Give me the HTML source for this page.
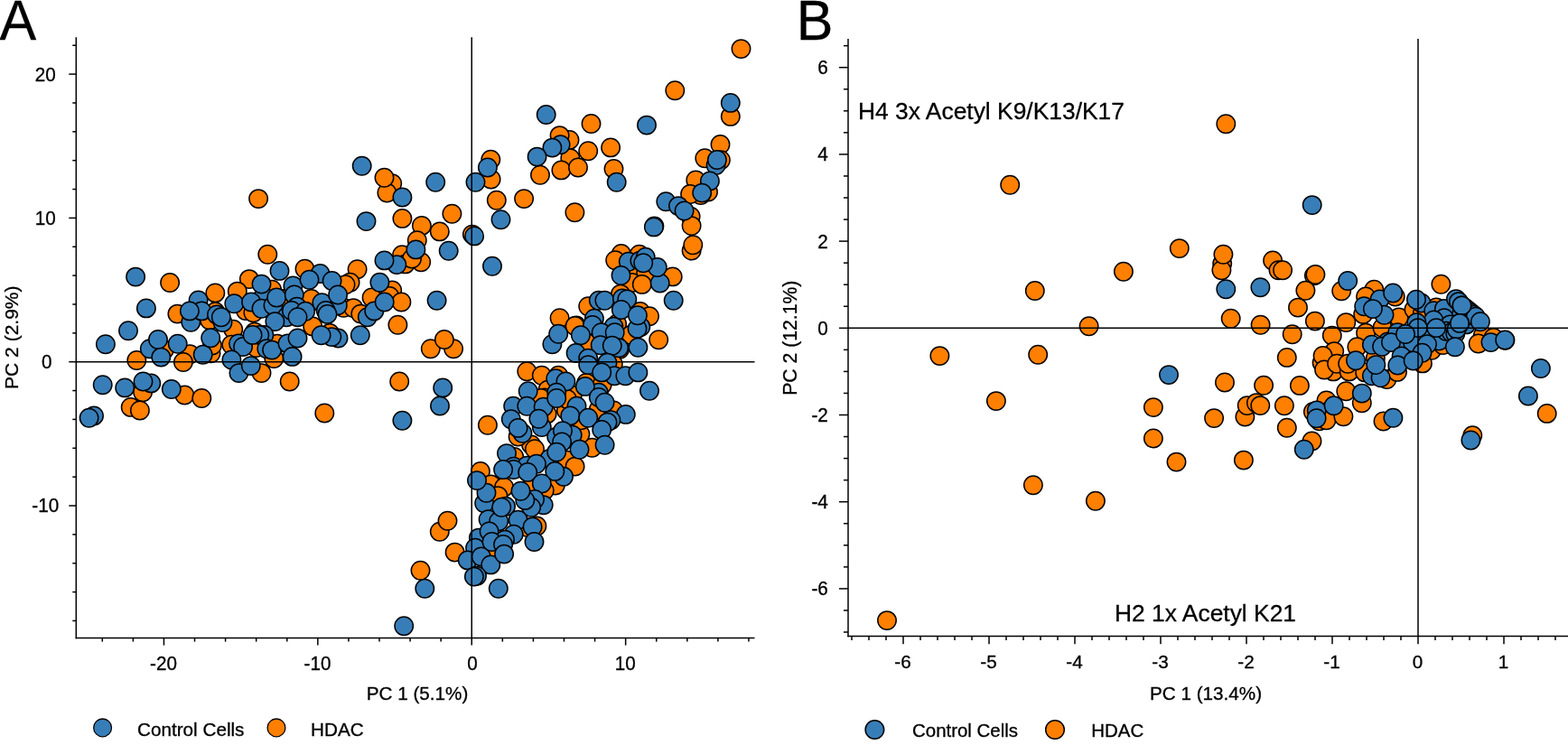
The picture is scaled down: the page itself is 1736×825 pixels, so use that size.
<!DOCTYPE html>
<html lang="en"><head><meta charset="utf-8"><title>PCA</title>
<style>
html,body{margin:0;padding:0;background:#fff;}
body{width:1736px;height:825px;overflow:hidden;}
svg{display:block;font-family:"Liberation Sans",sans-serif;fill:#000;}
text{stroke:#000;stroke-width:0.3px;}
circle{stroke:#000;stroke-width:1.5;}
</style></head><body>
<svg width="1736" height="825" viewBox="0 0 1736 825">
<rect x="0" y="0" width="1736" height="825" fill="#fff"/>
<g id="axes">
<line x1="84.30" y1="41.30" x2="84.30" y2="707.25" stroke="#000" stroke-width="1.5"/>
<line x1="83.65" y1="706.60" x2="835.50" y2="706.60" stroke="#000" stroke-width="1.5"/>
<line x1="113.29" y1="706.60" x2="113.29" y2="710.60" stroke="#000" stroke-width="1.5"/>
<line x1="147.37" y1="706.60" x2="147.37" y2="710.60" stroke="#000" stroke-width="1.5"/>
<line x1="181.45" y1="706.60" x2="181.45" y2="714.60" stroke="#000" stroke-width="1.5"/>
<text transform="translate(181.05 741.90) scale(1 1.045)" font-size="20.7" text-anchor="middle" >-20</text>
<line x1="215.53" y1="706.60" x2="215.53" y2="710.60" stroke="#000" stroke-width="1.5"/>
<line x1="249.61" y1="706.60" x2="249.61" y2="710.60" stroke="#000" stroke-width="1.5"/>
<line x1="283.69" y1="706.60" x2="283.69" y2="710.60" stroke="#000" stroke-width="1.5"/>
<line x1="317.77" y1="706.60" x2="317.77" y2="710.60" stroke="#000" stroke-width="1.5"/>
<line x1="351.85" y1="706.60" x2="351.85" y2="714.60" stroke="#000" stroke-width="1.5"/>
<text transform="translate(351.45 741.90) scale(1 1.045)" font-size="20.7" text-anchor="middle" >-10</text>
<line x1="385.93" y1="706.60" x2="385.93" y2="710.60" stroke="#000" stroke-width="1.5"/>
<line x1="420.01" y1="706.60" x2="420.01" y2="710.60" stroke="#000" stroke-width="1.5"/>
<line x1="454.09" y1="706.60" x2="454.09" y2="710.60" stroke="#000" stroke-width="1.5"/>
<line x1="488.17" y1="706.60" x2="488.17" y2="710.60" stroke="#000" stroke-width="1.5"/>
<line x1="522.25" y1="706.60" x2="522.25" y2="714.60" stroke="#000" stroke-width="1.5"/>
<text transform="translate(523.05 741.90) scale(1 1.045)" font-size="20.7" text-anchor="middle" >0</text>
<line x1="556.33" y1="706.60" x2="556.33" y2="710.60" stroke="#000" stroke-width="1.5"/>
<line x1="590.41" y1="706.60" x2="590.41" y2="710.60" stroke="#000" stroke-width="1.5"/>
<line x1="624.49" y1="706.60" x2="624.49" y2="710.60" stroke="#000" stroke-width="1.5"/>
<line x1="658.57" y1="706.60" x2="658.57" y2="710.60" stroke="#000" stroke-width="1.5"/>
<line x1="692.65" y1="706.60" x2="692.65" y2="714.60" stroke="#000" stroke-width="1.5"/>
<text transform="translate(692.25 741.90) scale(1 1.045)" font-size="20.7" text-anchor="middle" >10</text>
<line x1="726.73" y1="706.60" x2="726.73" y2="710.60" stroke="#000" stroke-width="1.5"/>
<line x1="760.81" y1="706.60" x2="760.81" y2="710.60" stroke="#000" stroke-width="1.5"/>
<line x1="794.89" y1="706.60" x2="794.89" y2="710.60" stroke="#000" stroke-width="1.5"/>
<line x1="828.97" y1="706.60" x2="828.97" y2="710.60" stroke="#000" stroke-width="1.5"/>
<line x1="84.30" y1="687.44" x2="80.30" y2="687.44" stroke="#000" stroke-width="1.5"/>
<line x1="84.30" y1="655.58" x2="80.30" y2="655.58" stroke="#000" stroke-width="1.5"/>
<line x1="84.30" y1="623.72" x2="80.30" y2="623.72" stroke="#000" stroke-width="1.5"/>
<line x1="84.30" y1="591.86" x2="80.30" y2="591.86" stroke="#000" stroke-width="1.5"/>
<line x1="84.30" y1="560.00" x2="76.30" y2="560.00" stroke="#000" stroke-width="1.5"/>
<text transform="translate(50.30 567.40) scale(1 1.045)" font-size="20.7" text-anchor="middle" >-10</text>
<line x1="84.30" y1="528.14" x2="80.30" y2="528.14" stroke="#000" stroke-width="1.5"/>
<line x1="84.30" y1="496.28" x2="80.30" y2="496.28" stroke="#000" stroke-width="1.5"/>
<line x1="84.30" y1="464.42" x2="80.30" y2="464.42" stroke="#000" stroke-width="1.5"/>
<line x1="84.30" y1="432.56" x2="80.30" y2="432.56" stroke="#000" stroke-width="1.5"/>
<line x1="84.30" y1="400.70" x2="76.30" y2="400.70" stroke="#000" stroke-width="1.5"/>
<text transform="translate(51.80 408.10) scale(1 1.045)" font-size="20.7" text-anchor="middle" >0</text>
<line x1="84.30" y1="368.84" x2="80.30" y2="368.84" stroke="#000" stroke-width="1.5"/>
<line x1="84.30" y1="336.98" x2="80.30" y2="336.98" stroke="#000" stroke-width="1.5"/>
<line x1="84.30" y1="305.12" x2="80.30" y2="305.12" stroke="#000" stroke-width="1.5"/>
<line x1="84.30" y1="273.26" x2="80.30" y2="273.26" stroke="#000" stroke-width="1.5"/>
<line x1="84.30" y1="241.40" x2="76.30" y2="241.40" stroke="#000" stroke-width="1.5"/>
<text transform="translate(50.30 248.80) scale(1 1.045)" font-size="20.7" text-anchor="middle" >10</text>
<line x1="84.30" y1="209.54" x2="80.30" y2="209.54" stroke="#000" stroke-width="1.5"/>
<line x1="84.30" y1="177.68" x2="80.30" y2="177.68" stroke="#000" stroke-width="1.5"/>
<line x1="84.30" y1="145.82" x2="80.30" y2="145.82" stroke="#000" stroke-width="1.5"/>
<line x1="84.30" y1="113.96" x2="80.30" y2="113.96" stroke="#000" stroke-width="1.5"/>
<line x1="84.30" y1="82.10" x2="76.30" y2="82.10" stroke="#000" stroke-width="1.5"/>
<text transform="translate(50.30 89.50) scale(1 1.045)" font-size="20.7" text-anchor="middle" >20</text>
<line x1="84.30" y1="50.24" x2="80.30" y2="50.24" stroke="#000" stroke-width="1.5"/>
<text transform="translate(462.00 775.00) scale(1 0.99)" font-size="20.7" text-anchor="middle" >PC 1 (5.1%)</text>
<text transform="translate(20,373.7) rotate(-90)" font-size="21" text-anchor="middle">PC 2 (2.9%)</text>
<text transform="translate(-0.4 43.8) scale(1 1.03)" font-size="61">A</text>
<line x1="939.00" y1="43.00" x2="939.00" y2="705.25" stroke="#000" stroke-width="1.5"/>
<line x1="938.25" y1="704.50" x2="1736.00" y2="704.50" stroke="#000" stroke-width="1.5"/>
<line x1="943.00" y1="704.50" x2="943.00" y2="708.90" stroke="#000" stroke-width="1.5"/>
<line x1="962.00" y1="704.50" x2="962.00" y2="708.90" stroke="#000" stroke-width="1.5"/>
<line x1="981.00" y1="704.50" x2="981.00" y2="708.90" stroke="#000" stroke-width="1.5"/>
<line x1="1000.00" y1="704.50" x2="1000.00" y2="713.20" stroke="#000" stroke-width="1.5"/>
<text transform="translate(999.50 740.40) scale(1 1.0)" font-size="20.7" text-anchor="middle" >-6</text>
<line x1="1019.00" y1="704.50" x2="1019.00" y2="708.90" stroke="#000" stroke-width="1.5"/>
<line x1="1038.00" y1="704.50" x2="1038.00" y2="708.90" stroke="#000" stroke-width="1.5"/>
<line x1="1057.00" y1="704.50" x2="1057.00" y2="708.90" stroke="#000" stroke-width="1.5"/>
<line x1="1076.00" y1="704.50" x2="1076.00" y2="708.90" stroke="#000" stroke-width="1.5"/>
<line x1="1095.00" y1="704.50" x2="1095.00" y2="713.20" stroke="#000" stroke-width="1.5"/>
<text transform="translate(1094.50 740.40) scale(1 1.0)" font-size="20.7" text-anchor="middle" >-5</text>
<line x1="1114.00" y1="704.50" x2="1114.00" y2="708.90" stroke="#000" stroke-width="1.5"/>
<line x1="1133.00" y1="704.50" x2="1133.00" y2="708.90" stroke="#000" stroke-width="1.5"/>
<line x1="1152.00" y1="704.50" x2="1152.00" y2="708.90" stroke="#000" stroke-width="1.5"/>
<line x1="1171.00" y1="704.50" x2="1171.00" y2="708.90" stroke="#000" stroke-width="1.5"/>
<line x1="1190.00" y1="704.50" x2="1190.00" y2="713.20" stroke="#000" stroke-width="1.5"/>
<text transform="translate(1189.50 740.40) scale(1 1.0)" font-size="20.7" text-anchor="middle" >-4</text>
<line x1="1209.00" y1="704.50" x2="1209.00" y2="708.90" stroke="#000" stroke-width="1.5"/>
<line x1="1228.00" y1="704.50" x2="1228.00" y2="708.90" stroke="#000" stroke-width="1.5"/>
<line x1="1247.00" y1="704.50" x2="1247.00" y2="708.90" stroke="#000" stroke-width="1.5"/>
<line x1="1266.00" y1="704.50" x2="1266.00" y2="708.90" stroke="#000" stroke-width="1.5"/>
<line x1="1285.00" y1="704.50" x2="1285.00" y2="713.20" stroke="#000" stroke-width="1.5"/>
<text transform="translate(1284.50 740.40) scale(1 1.0)" font-size="20.7" text-anchor="middle" >-3</text>
<line x1="1304.00" y1="704.50" x2="1304.00" y2="708.90" stroke="#000" stroke-width="1.5"/>
<line x1="1323.00" y1="704.50" x2="1323.00" y2="708.90" stroke="#000" stroke-width="1.5"/>
<line x1="1342.00" y1="704.50" x2="1342.00" y2="708.90" stroke="#000" stroke-width="1.5"/>
<line x1="1361.00" y1="704.50" x2="1361.00" y2="708.90" stroke="#000" stroke-width="1.5"/>
<line x1="1380.00" y1="704.50" x2="1380.00" y2="713.20" stroke="#000" stroke-width="1.5"/>
<text transform="translate(1379.50 740.40) scale(1 1.0)" font-size="20.7" text-anchor="middle" >-2</text>
<line x1="1399.00" y1="704.50" x2="1399.00" y2="708.90" stroke="#000" stroke-width="1.5"/>
<line x1="1418.00" y1="704.50" x2="1418.00" y2="708.90" stroke="#000" stroke-width="1.5"/>
<line x1="1437.00" y1="704.50" x2="1437.00" y2="708.90" stroke="#000" stroke-width="1.5"/>
<line x1="1456.00" y1="704.50" x2="1456.00" y2="708.90" stroke="#000" stroke-width="1.5"/>
<line x1="1475.00" y1="704.50" x2="1475.00" y2="713.20" stroke="#000" stroke-width="1.5"/>
<text transform="translate(1474.50 740.40) scale(1 1.0)" font-size="20.7" text-anchor="middle" >-1</text>
<line x1="1494.00" y1="704.50" x2="1494.00" y2="708.90" stroke="#000" stroke-width="1.5"/>
<line x1="1513.00" y1="704.50" x2="1513.00" y2="708.90" stroke="#000" stroke-width="1.5"/>
<line x1="1532.00" y1="704.50" x2="1532.00" y2="708.90" stroke="#000" stroke-width="1.5"/>
<line x1="1551.00" y1="704.50" x2="1551.00" y2="708.90" stroke="#000" stroke-width="1.5"/>
<line x1="1570.00" y1="704.50" x2="1570.00" y2="713.20" stroke="#000" stroke-width="1.5"/>
<text transform="translate(1569.50 740.40) scale(1 1.0)" font-size="20.7" text-anchor="middle" >0</text>
<line x1="1589.00" y1="704.50" x2="1589.00" y2="708.90" stroke="#000" stroke-width="1.5"/>
<line x1="1608.00" y1="704.50" x2="1608.00" y2="708.90" stroke="#000" stroke-width="1.5"/>
<line x1="1627.00" y1="704.50" x2="1627.00" y2="708.90" stroke="#000" stroke-width="1.5"/>
<line x1="1646.00" y1="704.50" x2="1646.00" y2="708.90" stroke="#000" stroke-width="1.5"/>
<line x1="1665.00" y1="704.50" x2="1665.00" y2="713.20" stroke="#000" stroke-width="1.5"/>
<text transform="translate(1664.50 740.40) scale(1 1.0)" font-size="20.7" text-anchor="middle" >1</text>
<line x1="1684.00" y1="704.50" x2="1684.00" y2="708.90" stroke="#000" stroke-width="1.5"/>
<line x1="1703.00" y1="704.50" x2="1703.00" y2="708.90" stroke="#000" stroke-width="1.5"/>
<line x1="1722.00" y1="704.50" x2="1722.00" y2="708.90" stroke="#000" stroke-width="1.5"/>
<line x1="939.00" y1="700.00" x2="934.00" y2="700.00" stroke="#000" stroke-width="1.5"/>
<line x1="939.00" y1="675.95" x2="934.00" y2="675.95" stroke="#000" stroke-width="1.5"/>
<line x1="939.00" y1="651.90" x2="929.00" y2="651.90" stroke="#000" stroke-width="1.5"/>
<text transform="translate(907.60 659.30) scale(1 1.045)" font-size="20.7" text-anchor="middle" >-6</text>
<line x1="939.00" y1="627.85" x2="934.00" y2="627.85" stroke="#000" stroke-width="1.5"/>
<line x1="939.00" y1="603.80" x2="934.00" y2="603.80" stroke="#000" stroke-width="1.5"/>
<line x1="939.00" y1="579.75" x2="934.00" y2="579.75" stroke="#000" stroke-width="1.5"/>
<line x1="939.00" y1="555.70" x2="929.00" y2="555.70" stroke="#000" stroke-width="1.5"/>
<text transform="translate(907.60 563.10) scale(1 1.045)" font-size="20.7" text-anchor="middle" >-4</text>
<line x1="939.00" y1="531.65" x2="934.00" y2="531.65" stroke="#000" stroke-width="1.5"/>
<line x1="939.00" y1="507.60" x2="934.00" y2="507.60" stroke="#000" stroke-width="1.5"/>
<line x1="939.00" y1="483.55" x2="934.00" y2="483.55" stroke="#000" stroke-width="1.5"/>
<line x1="939.00" y1="459.50" x2="929.00" y2="459.50" stroke="#000" stroke-width="1.5"/>
<text transform="translate(907.60 466.90) scale(1 1.045)" font-size="20.7" text-anchor="middle" >-2</text>
<line x1="939.00" y1="435.45" x2="934.00" y2="435.45" stroke="#000" stroke-width="1.5"/>
<line x1="939.00" y1="411.40" x2="934.00" y2="411.40" stroke="#000" stroke-width="1.5"/>
<line x1="939.00" y1="387.35" x2="934.00" y2="387.35" stroke="#000" stroke-width="1.5"/>
<line x1="939.00" y1="363.30" x2="929.00" y2="363.30" stroke="#000" stroke-width="1.5"/>
<text transform="translate(910.90 370.70) scale(1 1.045)" font-size="20.7" text-anchor="middle" >0</text>
<line x1="939.00" y1="339.25" x2="934.00" y2="339.25" stroke="#000" stroke-width="1.5"/>
<line x1="939.00" y1="315.20" x2="934.00" y2="315.20" stroke="#000" stroke-width="1.5"/>
<line x1="939.00" y1="291.15" x2="934.00" y2="291.15" stroke="#000" stroke-width="1.5"/>
<line x1="939.00" y1="267.10" x2="929.00" y2="267.10" stroke="#000" stroke-width="1.5"/>
<text transform="translate(910.90 274.50) scale(1 1.045)" font-size="20.7" text-anchor="middle" >2</text>
<line x1="939.00" y1="243.05" x2="934.00" y2="243.05" stroke="#000" stroke-width="1.5"/>
<line x1="939.00" y1="219.00" x2="934.00" y2="219.00" stroke="#000" stroke-width="1.5"/>
<line x1="939.00" y1="194.95" x2="934.00" y2="194.95" stroke="#000" stroke-width="1.5"/>
<line x1="939.00" y1="170.90" x2="929.00" y2="170.90" stroke="#000" stroke-width="1.5"/>
<text transform="translate(910.90 178.30) scale(1 1.045)" font-size="20.7" text-anchor="middle" >4</text>
<line x1="939.00" y1="146.85" x2="934.00" y2="146.85" stroke="#000" stroke-width="1.5"/>
<line x1="939.00" y1="122.80" x2="934.00" y2="122.80" stroke="#000" stroke-width="1.5"/>
<line x1="939.00" y1="98.75" x2="934.00" y2="98.75" stroke="#000" stroke-width="1.5"/>
<line x1="939.00" y1="74.70" x2="929.00" y2="74.70" stroke="#000" stroke-width="1.5"/>
<text transform="translate(910.90 82.10) scale(1 1.045)" font-size="20.7" text-anchor="middle" >6</text>
<line x1="939.00" y1="50.65" x2="934.00" y2="50.65" stroke="#000" stroke-width="1.5"/>
<text transform="translate(1335.00 775.00) scale(1 0.98)" font-size="20.7" text-anchor="middle" >PC 1 (13.4%)</text>
<text transform="translate(881.8,374.2) rotate(-90)" font-size="21.2" text-anchor="middle">PC 2 (12.1%)</text>
<text transform="translate(881.7 43.8) scale(1 1.03)" font-size="61">B</text>
<text transform="translate(950.00 132.00) scale(1 0.965)" font-size="26.4" text-anchor="start" >H4 3x Acetyl K9/K13/K17</text>
<text transform="translate(1234.00 688.00) scale(1 0.965)" font-size="26.4" text-anchor="start" >H2 1x Acetyl K21</text>
</g>
<g id="pointsA">
<circle cx="188.1" cy="313.0" r="10.2" fill="#ff7f00"/>
<circle cx="296.3" cy="281.7" r="10.2" fill="#ff7f00"/>
<circle cx="275.9" cy="309.1" r="10.2" fill="#ff7f00"/>
<circle cx="262.8" cy="322.6" r="10.2" fill="#ff7f00"/>
<circle cx="238.3" cy="324.4" r="10.2" fill="#ff7f00"/>
<circle cx="196.4" cy="347.6" r="10.2" fill="#ff7f00"/>
<circle cx="238.3" cy="345.2" r="10.2" fill="#ff7f00"/>
<circle cx="232.0" cy="354.5" r="10.2" fill="#ff7f00"/>
<circle cx="258.2" cy="364.8" r="10.2" fill="#ff7f00"/>
<circle cx="272.0" cy="344.0" r="10.2" fill="#ff7f00"/>
<circle cx="280.4" cy="346.2" r="10.2" fill="#ff7f00"/>
<circle cx="301.1" cy="320.7" r="10.2" fill="#ff7f00"/>
<circle cx="312.7" cy="330.9" r="10.2" fill="#ff7f00"/>
<circle cx="151.3" cy="399.0" r="10.2" fill="#ff7f00"/>
<circle cx="181.8" cy="387.6" r="10.2" fill="#ff7f00"/>
<circle cx="210.2" cy="392.3" r="10.2" fill="#ff7f00"/>
<circle cx="233.5" cy="391.3" r="10.2" fill="#ff7f00"/>
<circle cx="234.9" cy="382.5" r="10.2" fill="#ff7f00"/>
<circle cx="256.3" cy="381.8" r="10.2" fill="#ff7f00"/>
<circle cx="281.9" cy="367.6" r="10.2" fill="#ff7f00"/>
<circle cx="306.9" cy="380.7" r="10.2" fill="#ff7f00"/>
<circle cx="283.6" cy="385.0" r="10.2" fill="#ff7f00"/>
<circle cx="303.3" cy="397.1" r="10.2" fill="#ff7f00"/>
<circle cx="337.5" cy="297.7" r="10.2" fill="#ff7f00"/>
<circle cx="395.6" cy="298.2" r="10.2" fill="#ff7f00"/>
<circle cx="387.6" cy="312.7" r="10.2" fill="#ff7f00"/>
<circle cx="382.5" cy="315.2" r="10.2" fill="#ff7f00"/>
<circle cx="344.7" cy="330.9" r="10.2" fill="#ff7f00"/>
<circle cx="346.2" cy="361.5" r="10.2" fill="#ff7f00"/>
<circle cx="365.1" cy="369.0" r="10.2" fill="#ff7f00"/>
<circle cx="380.4" cy="340.8" r="10.2" fill="#ff7f00"/>
<circle cx="391.3" cy="341.1" r="10.2" fill="#ff7f00"/>
<circle cx="399.3" cy="347.6" r="10.2" fill="#ff7f00"/>
<circle cx="411.6" cy="329.5" r="10.2" fill="#ff7f00"/>
<circle cx="434.2" cy="321.5" r="10.2" fill="#ff7f00"/>
<circle cx="431.3" cy="328.0" r="10.2" fill="#ff7f00"/>
<circle cx="444.4" cy="334.5" r="10.2" fill="#ff7f00"/>
<circle cx="440.4" cy="359.7" r="10.2" fill="#ff7f00"/>
<circle cx="476.8" cy="386.2" r="10.2" fill="#ff7f00"/>
<circle cx="502.1" cy="386.2" r="10.2" fill="#ff7f00"/>
<circle cx="491.9" cy="376.0" r="10.2" fill="#ff7f00"/>
<circle cx="445.1" cy="282.2" r="10.2" fill="#ff7f00"/>
<circle cx="448.7" cy="292.4" r="10.2" fill="#ff7f00"/>
<circle cx="466.2" cy="290.2" r="10.2" fill="#ff7f00"/>
<circle cx="456.0" cy="286.5" r="10.2" fill="#ff7f00"/>
<circle cx="202.9" cy="401.0" r="10.2" fill="#ff7f00"/>
<circle cx="289.5" cy="413.1" r="10.2" fill="#ff7f00"/>
<circle cx="158.1" cy="434.2" r="10.2" fill="#ff7f00"/>
<circle cx="204.4" cy="437.5" r="10.2" fill="#ff7f00"/>
<circle cx="223.3" cy="441.0" r="10.2" fill="#ff7f00"/>
<circle cx="144.7" cy="450.9" r="10.2" fill="#ff7f00"/>
<circle cx="154.9" cy="454.5" r="10.2" fill="#ff7f00"/>
<circle cx="320.7" cy="422.5" r="10.2" fill="#ff7f00"/>
<circle cx="442.2" cy="422.5" r="10.2" fill="#ff7f00"/>
<circle cx="359.3" cy="457.5" r="10.2" fill="#ff7f00"/>
<circle cx="539.9" cy="470.8" r="10.2" fill="#ff7f00"/>
<circle cx="434.2" cy="203.3" r="10.2" fill="#ff7f00"/>
<circle cx="428.4" cy="213.5" r="10.2" fill="#ff7f00"/>
<circle cx="425.5" cy="196.7" r="10.2" fill="#ff7f00"/>
<circle cx="445.4" cy="241.9" r="10.2" fill="#ff7f00"/>
<circle cx="466.9" cy="249.9" r="10.2" fill="#ff7f00"/>
<circle cx="486.8" cy="256.4" r="10.2" fill="#ff7f00"/>
<circle cx="500.4" cy="236.8" r="10.2" fill="#ff7f00"/>
<circle cx="461.8" cy="266.2" r="10.2" fill="#ff7f00"/>
<circle cx="543.3" cy="176.7" r="10.2" fill="#ff7f00"/>
<circle cx="543.6" cy="198.5" r="10.2" fill="#ff7f00"/>
<circle cx="549.8" cy="221.8" r="10.2" fill="#ff7f00"/>
<circle cx="522.9" cy="259.6" r="10.2" fill="#ff7f00"/>
<circle cx="286.1" cy="220.1" r="10.2" fill="#ff7f00"/>
<circle cx="630.5" cy="154.9" r="10.2" fill="#ff7f00"/>
<circle cx="619.6" cy="150.1" r="10.2" fill="#ff7f00"/>
<circle cx="654.5" cy="137.0" r="10.2" fill="#ff7f00"/>
<circle cx="820.5" cy="54.1" r="10.2" fill="#ff7f00"/>
<circle cx="747.3" cy="100.3" r="10.2" fill="#ff7f00"/>
<circle cx="808.8" cy="128.9" r="10.2" fill="#ff7f00"/>
<circle cx="797.5" cy="160.0" r="10.2" fill="#ff7f00"/>
<circle cx="780.3" cy="175.3" r="10.2" fill="#ff7f00"/>
<circle cx="797.9" cy="177.2" r="10.2" fill="#ff7f00"/>
<circle cx="770.3" cy="199.5" r="10.2" fill="#ff7f00"/>
<circle cx="651.2" cy="167.2" r="10.2" fill="#ff7f00"/>
<circle cx="676.1" cy="163.4" r="10.2" fill="#ff7f00"/>
<circle cx="631.3" cy="175.3" r="10.2" fill="#ff7f00"/>
<circle cx="621.4" cy="188.4" r="10.2" fill="#ff7f00"/>
<circle cx="640.0" cy="185.5" r="10.2" fill="#ff7f00"/>
<circle cx="598.0" cy="193.7" r="10.2" fill="#ff7f00"/>
<circle cx="679.5" cy="186.9" r="10.2" fill="#ff7f00"/>
<circle cx="580.1" cy="220.1" r="10.2" fill="#ff7f00"/>
<circle cx="636.4" cy="235.2" r="10.2" fill="#ff7f00"/>
<circle cx="784.0" cy="212.6" r="10.2" fill="#ff7f00"/>
<circle cx="775.8" cy="216.0" r="10.2" fill="#ff7f00"/>
<circle cx="764.1" cy="215.0" r="10.2" fill="#ff7f00"/>
<circle cx="764.6" cy="239.8" r="10.2" fill="#ff7f00"/>
<circle cx="765.6" cy="250.1" r="10.2" fill="#ff7f00"/>
<circle cx="724.4" cy="250.4" r="10.2" fill="#ff7f00"/>
<circle cx="765.6" cy="277.6" r="10.2" fill="#ff7f00"/>
<circle cx="767.3" cy="271.3" r="10.2" fill="#ff7f00"/>
<circle cx="687.8" cy="281.0" r="10.2" fill="#ff7f00"/>
<circle cx="681.2" cy="288.2" r="10.2" fill="#ff7f00"/>
<circle cx="705.5" cy="306.2" r="10.2" fill="#ff7f00"/>
<circle cx="715.2" cy="302.3" r="10.2" fill="#ff7f00"/>
<circle cx="699.6" cy="313.0" r="10.2" fill="#ff7f00"/>
<circle cx="710.8" cy="314.9" r="10.2" fill="#ff7f00"/>
<circle cx="687.0" cy="325.6" r="10.2" fill="#ff7f00"/>
<circle cx="651.2" cy="339.2" r="10.2" fill="#ff7f00"/>
<circle cx="619.6" cy="352.2" r="10.2" fill="#ff7f00"/>
<circle cx="708.8" cy="345.0" r="10.2" fill="#ff7f00"/>
<circle cx="683.1" cy="358.8" r="10.2" fill="#ff7f00"/>
<circle cx="719.0" cy="350.3" r="10.2" fill="#ff7f00"/>
<circle cx="744.7" cy="306.4" r="10.2" fill="#ff7f00"/>
<circle cx="638.1" cy="360.5" r="10.2" fill="#ff7f00"/>
<circle cx="636.6" cy="361.0" r="10.2" fill="#ff7f00"/>
<circle cx="649.2" cy="379.4" r="10.2" fill="#ff7f00"/>
<circle cx="698.7" cy="370.7" r="10.2" fill="#ff7f00"/>
<circle cx="686.1" cy="386.7" r="10.2" fill="#ff7f00"/>
<circle cx="671.5" cy="402.7" r="10.2" fill="#ff7f00"/>
<circle cx="678.8" cy="403.2" r="10.2" fill="#ff7f00"/>
<circle cx="583.3" cy="411.2" r="10.2" fill="#ff7f00"/>
<circle cx="599.8" cy="415.8" r="10.2" fill="#ff7f00"/>
<circle cx="618.2" cy="415.8" r="10.2" fill="#ff7f00"/>
<circle cx="606.5" cy="431.8" r="10.2" fill="#ff7f00"/>
<circle cx="602.7" cy="440.5" r="10.2" fill="#ff7f00"/>
<circle cx="633.7" cy="437.6" r="10.2" fill="#ff7f00"/>
<circle cx="649.2" cy="424.0" r="10.2" fill="#ff7f00"/>
<circle cx="666.7" cy="425.9" r="10.2" fill="#ff7f00"/>
<circle cx="729.2" cy="376.2" r="10.2" fill="#ff7f00"/>
<circle cx="588.1" cy="492.4" r="10.2" fill="#ff7f00"/>
<circle cx="573.6" cy="483.6" r="10.2" fill="#ff7f00"/>
<circle cx="569.2" cy="505.9" r="10.2" fill="#ff7f00"/>
<circle cx="627.9" cy="509.8" r="10.2" fill="#ff7f00"/>
<circle cx="636.6" cy="516.6" r="10.2" fill="#ff7f00"/>
<circle cx="655.5" cy="495.8" r="10.2" fill="#ff7f00"/>
<circle cx="642.4" cy="480.7" r="10.2" fill="#ff7f00"/>
<circle cx="662.8" cy="453.6" r="10.2" fill="#ff7f00"/>
<circle cx="679.3" cy="454.5" r="10.2" fill="#ff7f00"/>
<circle cx="626.9" cy="454.5" r="10.2" fill="#ff7f00"/>
<circle cx="605.6" cy="458.4" r="10.2" fill="#ff7f00"/>
<circle cx="643.4" cy="465.2" r="10.2" fill="#ff7f00"/>
<circle cx="598.8" cy="441.0" r="10.2" fill="#ff7f00"/>
<circle cx="627.9" cy="441.9" r="10.2" fill="#ff7f00"/>
<circle cx="592.0" cy="497.2" r="10.2" fill="#ff7f00"/>
<circle cx="614.8" cy="537.5" r="10.2" fill="#ff7f00"/>
<circle cx="602.7" cy="543.3" r="10.2" fill="#ff7f00"/>
<circle cx="588.1" cy="539.4" r="10.2" fill="#ff7f00"/>
<circle cx="594.4" cy="582.5" r="10.2" fill="#ff7f00"/>
<circle cx="584.2" cy="584.0" r="10.2" fill="#ff7f00"/>
<circle cx="486.8" cy="588.8" r="10.2" fill="#ff7f00"/>
<circle cx="495.5" cy="576.7" r="10.2" fill="#ff7f00"/>
<circle cx="531.9" cy="521.9" r="10.2" fill="#ff7f00"/>
<circle cx="543.5" cy="536.5" r="10.2" fill="#ff7f00"/>
<circle cx="558.1" cy="539.4" r="10.2" fill="#ff7f00"/>
<circle cx="551.3" cy="549.1" r="10.2" fill="#ff7f00"/>
<circle cx="503.6" cy="611.6" r="10.2" fill="#ff7f00"/>
<circle cx="465.5" cy="631.7" r="10.2" fill="#ff7f00"/>
<circle cx="544.5" cy="612.6" r="10.2" fill="#ff7f00"/>
<circle cx="707.8" cy="281.8" r="10.2" fill="#ff7f00"/>
<circle cx="679.4" cy="361.8" r="10.2" fill="#377eb8"/>
<circle cx="165.8" cy="386.2" r="10.2" fill="#377eb8"/>
<circle cx="175.0" cy="376.0" r="10.2" fill="#377eb8"/>
<circle cx="178.3" cy="395.6" r="10.2" fill="#377eb8"/>
<circle cx="116.9" cy="381.2" r="10.2" fill="#377eb8"/>
<circle cx="142.0" cy="366.3" r="10.2" fill="#377eb8"/>
<circle cx="161.9" cy="341.4" r="10.2" fill="#377eb8"/>
<circle cx="150.1" cy="306.6" r="10.2" fill="#377eb8"/>
<circle cx="196.7" cy="380.8" r="10.2" fill="#377eb8"/>
<circle cx="224.7" cy="392.7" r="10.2" fill="#377eb8"/>
<circle cx="233.2" cy="374.3" r="10.2" fill="#377eb8"/>
<circle cx="219.6" cy="332.4" r="10.2" fill="#377eb8"/>
<circle cx="211.3" cy="356.8" r="10.2" fill="#377eb8"/>
<circle cx="223.3" cy="344.4" r="10.2" fill="#377eb8"/>
<circle cx="209.9" cy="344.4" r="10.2" fill="#377eb8"/>
<circle cx="240.0" cy="348.4" r="10.2" fill="#377eb8"/>
<circle cx="246.5" cy="357.1" r="10.2" fill="#377eb8"/>
<circle cx="244.8" cy="351.3" r="10.2" fill="#377eb8"/>
<circle cx="259.3" cy="336.3" r="10.2" fill="#377eb8"/>
<circle cx="291.6" cy="328.0" r="10.2" fill="#377eb8"/>
<circle cx="278.1" cy="334.5" r="10.2" fill="#377eb8"/>
<circle cx="289.5" cy="341.8" r="10.2" fill="#377eb8"/>
<circle cx="302.5" cy="338.2" r="10.2" fill="#377eb8"/>
<circle cx="306.2" cy="329.5" r="10.2" fill="#377eb8"/>
<circle cx="289.5" cy="314.6" r="10.2" fill="#377eb8"/>
<circle cx="309.5" cy="299.9" r="10.2" fill="#377eb8"/>
<circle cx="317.1" cy="351.3" r="10.2" fill="#377eb8"/>
<circle cx="304.4" cy="356.1" r="10.2" fill="#377eb8"/>
<circle cx="292.4" cy="370.9" r="10.2" fill="#377eb8"/>
<circle cx="287.3" cy="370.9" r="10.2" fill="#377eb8"/>
<circle cx="264.0" cy="380.4" r="10.2" fill="#377eb8"/>
<circle cx="269.1" cy="384.0" r="10.2" fill="#377eb8"/>
<circle cx="279.6" cy="370.9" r="10.2" fill="#377eb8"/>
<circle cx="295.3" cy="386.2" r="10.2" fill="#377eb8"/>
<circle cx="301.1" cy="387.6" r="10.2" fill="#377eb8"/>
<circle cx="256.4" cy="398.5" r="10.2" fill="#377eb8"/>
<circle cx="318.5" cy="380.4" r="10.2" fill="#377eb8"/>
<circle cx="324.4" cy="316.4" r="10.2" fill="#377eb8"/>
<circle cx="325.8" cy="326.5" r="10.2" fill="#377eb8"/>
<circle cx="354.5" cy="303.0" r="10.2" fill="#377eb8"/>
<circle cx="342.5" cy="309.8" r="10.2" fill="#377eb8"/>
<circle cx="367.6" cy="311.0" r="10.2" fill="#377eb8"/>
<circle cx="373.8" cy="338.2" r="10.2" fill="#377eb8"/>
<circle cx="356.4" cy="335.3" r="10.2" fill="#377eb8"/>
<circle cx="374.1" cy="326.5" r="10.2" fill="#377eb8"/>
<circle cx="360.7" cy="344.0" r="10.2" fill="#377eb8"/>
<circle cx="362.5" cy="347.9" r="10.2" fill="#377eb8"/>
<circle cx="328.7" cy="339.6" r="10.2" fill="#377eb8"/>
<circle cx="322.9" cy="344.0" r="10.2" fill="#377eb8"/>
<circle cx="338.2" cy="344.7" r="10.2" fill="#377eb8"/>
<circle cx="329.5" cy="351.3" r="10.2" fill="#377eb8"/>
<circle cx="329.5" cy="374.5" r="10.2" fill="#377eb8"/>
<circle cx="323.6" cy="394.9" r="10.2" fill="#377eb8"/>
<circle cx="374.5" cy="374.5" r="10.2" fill="#377eb8"/>
<circle cx="367.3" cy="373.1" r="10.2" fill="#377eb8"/>
<circle cx="355.6" cy="371.3" r="10.2" fill="#377eb8"/>
<circle cx="398.8" cy="371.3" r="10.2" fill="#377eb8"/>
<circle cx="406.8" cy="351.3" r="10.2" fill="#377eb8"/>
<circle cx="414.3" cy="344.4" r="10.2" fill="#377eb8"/>
<circle cx="425.7" cy="334.5" r="10.2" fill="#377eb8"/>
<circle cx="420.4" cy="312.7" r="10.2" fill="#377eb8"/>
<circle cx="483.6" cy="332.8" r="10.2" fill="#377eb8"/>
<circle cx="545.0" cy="294.8" r="10.2" fill="#377eb8"/>
<circle cx="439.3" cy="293.1" r="10.2" fill="#377eb8"/>
<circle cx="425.5" cy="288.4" r="10.2" fill="#377eb8"/>
<circle cx="264.4" cy="413.1" r="10.2" fill="#377eb8"/>
<circle cx="277.8" cy="405.1" r="10.2" fill="#377eb8"/>
<circle cx="113.7" cy="426.2" r="10.2" fill="#377eb8"/>
<circle cx="138.2" cy="429.4" r="10.2" fill="#377eb8"/>
<circle cx="167.3" cy="424.4" r="10.2" fill="#377eb8"/>
<circle cx="158.5" cy="422.5" r="10.2" fill="#377eb8"/>
<circle cx="189.8" cy="431.0" r="10.2" fill="#377eb8"/>
<circle cx="104.0" cy="460.4" r="10.2" fill="#377eb8"/>
<circle cx="98.6" cy="462.8" r="10.2" fill="#377eb8"/>
<circle cx="445.4" cy="465.7" r="10.2" fill="#377eb8"/>
<circle cx="487.0" cy="449.5" r="10.2" fill="#377eb8"/>
<circle cx="490.2" cy="429.4" r="10.2" fill="#377eb8"/>
<circle cx="400.7" cy="183.7" r="10.2" fill="#377eb8"/>
<circle cx="482.2" cy="201.7" r="10.2" fill="#377eb8"/>
<circle cx="445.4" cy="218.5" r="10.2" fill="#377eb8"/>
<circle cx="405.5" cy="245.1" r="10.2" fill="#377eb8"/>
<circle cx="526.5" cy="201.7" r="10.2" fill="#377eb8"/>
<circle cx="539.9" cy="185.5" r="10.2" fill="#377eb8"/>
<circle cx="525.1" cy="261.4" r="10.2" fill="#377eb8"/>
<circle cx="554.5" cy="243.3" r="10.2" fill="#377eb8"/>
<circle cx="460.4" cy="276.4" r="10.2" fill="#377eb8"/>
<circle cx="496.7" cy="277.8" r="10.2" fill="#377eb8"/>
<circle cx="604.7" cy="127.0" r="10.2" fill="#377eb8"/>
<circle cx="808.8" cy="113.9" r="10.2" fill="#377eb8"/>
<circle cx="716.0" cy="138.6" r="10.2" fill="#377eb8"/>
<circle cx="792.6" cy="183.0" r="10.2" fill="#377eb8"/>
<circle cx="793.9" cy="177.0" r="10.2" fill="#377eb8"/>
<circle cx="620.6" cy="160.2" r="10.2" fill="#377eb8"/>
<circle cx="611.4" cy="163.6" r="10.2" fill="#377eb8"/>
<circle cx="594.6" cy="173.6" r="10.2" fill="#377eb8"/>
<circle cx="682.7" cy="201.7" r="10.2" fill="#377eb8"/>
<circle cx="785.9" cy="200.5" r="10.2" fill="#377eb8"/>
<circle cx="777.2" cy="213.6" r="10.2" fill="#377eb8"/>
<circle cx="737.3" cy="223.3" r="10.2" fill="#377eb8"/>
<circle cx="751.0" cy="228.1" r="10.2" fill="#377eb8"/>
<circle cx="757.6" cy="233.5" r="10.2" fill="#377eb8"/>
<circle cx="723.9" cy="251.4" r="10.2" fill="#377eb8"/>
<circle cx="695.8" cy="289.7" r="10.2" fill="#377eb8"/>
<circle cx="708.4" cy="288.7" r="10.2" fill="#377eb8"/>
<circle cx="714.7" cy="284.8" r="10.2" fill="#377eb8"/>
<circle cx="687.5" cy="305.0" r="10.2" fill="#377eb8"/>
<circle cx="662.8" cy="332.8" r="10.2" fill="#377eb8"/>
<circle cx="669.4" cy="332.8" r="10.2" fill="#377eb8"/>
<circle cx="689.0" cy="330.4" r="10.2" fill="#377eb8"/>
<circle cx="694.3" cy="331.4" r="10.2" fill="#377eb8"/>
<circle cx="687.8" cy="343.0" r="10.2" fill="#377eb8"/>
<circle cx="657.9" cy="352.7" r="10.2" fill="#377eb8"/>
<circle cx="730.7" cy="313.5" r="10.2" fill="#377eb8"/>
<circle cx="727.8" cy="296.0" r="10.2" fill="#377eb8"/>
<circle cx="745.7" cy="332.8" r="10.2" fill="#377eb8"/>
<circle cx="611.4" cy="381.3" r="10.2" fill="#377eb8"/>
<circle cx="618.2" cy="369.7" r="10.2" fill="#377eb8"/>
<circle cx="656.0" cy="360.0" r="10.2" fill="#377eb8"/>
<circle cx="642.9" cy="371.2" r="10.2" fill="#377eb8"/>
<circle cx="665.7" cy="368.2" r="10.2" fill="#377eb8"/>
<circle cx="680.7" cy="368.2" r="10.2" fill="#377eb8"/>
<circle cx="709.3" cy="361.9" r="10.2" fill="#377eb8"/>
<circle cx="705.5" cy="363.9" r="10.2" fill="#377eb8"/>
<circle cx="664.7" cy="382.3" r="10.2" fill="#377eb8"/>
<circle cx="685.1" cy="385.2" r="10.2" fill="#377eb8"/>
<circle cx="677.8" cy="382.8" r="10.2" fill="#377eb8"/>
<circle cx="706.4" cy="384.7" r="10.2" fill="#377eb8"/>
<circle cx="637.6" cy="391.0" r="10.2" fill="#377eb8"/>
<circle cx="651.2" cy="396.8" r="10.2" fill="#377eb8"/>
<circle cx="672.5" cy="401.7" r="10.2" fill="#377eb8"/>
<circle cx="651.2" cy="404.1" r="10.2" fill="#377eb8"/>
<circle cx="680.2" cy="416.2" r="10.2" fill="#377eb8"/>
<circle cx="666.2" cy="412.4" r="10.2" fill="#377eb8"/>
<circle cx="692.4" cy="416.2" r="10.2" fill="#377eb8"/>
<circle cx="706.4" cy="412.4" r="10.2" fill="#377eb8"/>
<circle cx="615.3" cy="419.2" r="10.2" fill="#377eb8"/>
<circle cx="626.4" cy="422.5" r="10.2" fill="#377eb8"/>
<circle cx="584.7" cy="433.2" r="10.2" fill="#377eb8"/>
<circle cx="616.2" cy="434.7" r="10.2" fill="#377eb8"/>
<circle cx="662.8" cy="434.7" r="10.2" fill="#377eb8"/>
<circle cx="647.8" cy="427.9" r="10.2" fill="#377eb8"/>
<circle cx="719.0" cy="432.7" r="10.2" fill="#377eb8"/>
<circle cx="568.2" cy="449.7" r="10.2" fill="#377eb8"/>
<circle cx="583.3" cy="449.7" r="10.2" fill="#377eb8"/>
<circle cx="601.7" cy="450.7" r="10.2" fill="#377eb8"/>
<circle cx="616.2" cy="441.0" r="10.2" fill="#377eb8"/>
<circle cx="599.8" cy="473.0" r="10.2" fill="#377eb8"/>
<circle cx="596.4" cy="463.8" r="10.2" fill="#377eb8"/>
<circle cx="565.8" cy="464.2" r="10.2" fill="#377eb8"/>
<circle cx="578.4" cy="479.8" r="10.2" fill="#377eb8"/>
<circle cx="573.6" cy="473.9" r="10.2" fill="#377eb8"/>
<circle cx="638.5" cy="449.7" r="10.2" fill="#377eb8"/>
<circle cx="631.3" cy="460.4" r="10.2" fill="#377eb8"/>
<circle cx="651.2" cy="462.8" r="10.2" fill="#377eb8"/>
<circle cx="662.8" cy="440.0" r="10.2" fill="#377eb8"/>
<circle cx="669.6" cy="445.8" r="10.2" fill="#377eb8"/>
<circle cx="692.8" cy="458.9" r="10.2" fill="#377eb8"/>
<circle cx="676.4" cy="465.2" r="10.2" fill="#377eb8"/>
<circle cx="672.5" cy="467.6" r="10.2" fill="#377eb8"/>
<circle cx="666.2" cy="475.9" r="10.2" fill="#377eb8"/>
<circle cx="616.2" cy="483.6" r="10.2" fill="#377eb8"/>
<circle cx="633.7" cy="481.7" r="10.2" fill="#377eb8"/>
<circle cx="623.0" cy="477.3" r="10.2" fill="#377eb8"/>
<circle cx="669.6" cy="492.8" r="10.2" fill="#377eb8"/>
<circle cx="622.1" cy="489.5" r="10.2" fill="#377eb8"/>
<circle cx="608.5" cy="507.9" r="10.2" fill="#377eb8"/>
<circle cx="641.5" cy="497.7" r="10.2" fill="#377eb8"/>
<circle cx="616.2" cy="500.6" r="10.2" fill="#377eb8"/>
<circle cx="561.0" cy="502.1" r="10.2" fill="#377eb8"/>
<circle cx="568.7" cy="516.6" r="10.2" fill="#377eb8"/>
<circle cx="583.3" cy="515.6" r="10.2" fill="#377eb8"/>
<circle cx="593.9" cy="513.7" r="10.2" fill="#377eb8"/>
<circle cx="568.7" cy="520.0" r="10.2" fill="#377eb8"/>
<circle cx="584.2" cy="522.9" r="10.2" fill="#377eb8"/>
<circle cx="624.0" cy="527.8" r="10.2" fill="#377eb8"/>
<circle cx="614.3" cy="521.9" r="10.2" fill="#377eb8"/>
<circle cx="599.8" cy="535.5" r="10.2" fill="#377eb8"/>
<circle cx="601.7" cy="559.3" r="10.2" fill="#377eb8"/>
<circle cx="592.0" cy="553.0" r="10.2" fill="#377eb8"/>
<circle cx="588.1" cy="561.7" r="10.2" fill="#377eb8"/>
<circle cx="581.3" cy="553.9" r="10.2" fill="#377eb8"/>
<circle cx="576.5" cy="543.8" r="10.2" fill="#377eb8"/>
<circle cx="560.0" cy="560.7" r="10.2" fill="#377eb8"/>
<circle cx="573.6" cy="575.8" r="10.2" fill="#377eb8"/>
<circle cx="589.6" cy="583.5" r="10.2" fill="#377eb8"/>
<circle cx="568.7" cy="591.8" r="10.2" fill="#377eb8"/>
<circle cx="591.5" cy="600.0" r="10.2" fill="#377eb8"/>
<circle cx="536.2" cy="557.3" r="10.2" fill="#377eb8"/>
<circle cx="538.5" cy="545.7" r="10.2" fill="#377eb8"/>
<circle cx="528.0" cy="532.1" r="10.2" fill="#377eb8"/>
<circle cx="540.6" cy="575.3" r="10.2" fill="#377eb8"/>
<circle cx="552.2" cy="577.2" r="10.2" fill="#377eb8"/>
<circle cx="555.2" cy="561.7" r="10.2" fill="#377eb8"/>
<circle cx="529.9" cy="595.6" r="10.2" fill="#377eb8"/>
<circle cx="541.6" cy="588.4" r="10.2" fill="#377eb8"/>
<circle cx="557.1" cy="520.0" r="10.2" fill="#377eb8"/>
<circle cx="559.0" cy="597.6" r="10.2" fill="#377eb8"/>
<circle cx="470.3" cy="651.7" r="10.2" fill="#377eb8"/>
<circle cx="526.1" cy="606.8" r="10.2" fill="#377eb8"/>
<circle cx="517.8" cy="620.4" r="10.2" fill="#377eb8"/>
<circle cx="532.8" cy="616.5" r="10.2" fill="#377eb8"/>
<circle cx="543.3" cy="625.4" r="10.2" fill="#377eb8"/>
<circle cx="528.0" cy="637.8" r="10.2" fill="#377eb8"/>
<circle cx="524.9" cy="638.6" r="10.2" fill="#377eb8"/>
<circle cx="551.8" cy="651.7" r="10.2" fill="#377eb8"/>
<circle cx="544.5" cy="600.0" r="10.2" fill="#377eb8"/>
<circle cx="557.1" cy="602.9" r="10.2" fill="#377eb8"/>
<circle cx="558.1" cy="613.6" r="10.2" fill="#377eb8"/>
<circle cx="447.2" cy="693.3" r="10.2" fill="#377eb8"/>
<circle cx="712.2" cy="291.2" r="10.2" fill="#377eb8"/>
<circle cx="705.9" cy="349.3" r="10.2" fill="#377eb8"/>
</g>
<g id="pointsB">
<circle cx="1357.3" cy="137.2" r="10.2" fill="#ff7f00"/>
<circle cx="1118.2" cy="204.7" r="10.2" fill="#ff7f00"/>
<circle cx="1305.8" cy="275.1" r="10.2" fill="#ff7f00"/>
<circle cx="1353.2" cy="292.0" r="10.2" fill="#ff7f00"/>
<circle cx="1352.4" cy="299.3" r="10.2" fill="#ff7f00"/>
<circle cx="1354.4" cy="281.8" r="10.2" fill="#ff7f00"/>
<circle cx="1243.9" cy="300.7" r="10.2" fill="#ff7f00"/>
<circle cx="1145.8" cy="322.0" r="10.2" fill="#ff7f00"/>
<circle cx="1409.1" cy="288.5" r="10.2" fill="#ff7f00"/>
<circle cx="1415.5" cy="299.3" r="10.2" fill="#ff7f00"/>
<circle cx="1420.1" cy="299.3" r="10.2" fill="#ff7f00"/>
<circle cx="1205.6" cy="361.2" r="10.2" fill="#ff7f00"/>
<circle cx="1362.7" cy="352.8" r="10.2" fill="#ff7f00"/>
<circle cx="1395.6" cy="359.8" r="10.2" fill="#ff7f00"/>
<circle cx="1040.4" cy="394.1" r="10.2" fill="#ff7f00"/>
<circle cx="1149.2" cy="392.7" r="10.2" fill="#ff7f00"/>
<circle cx="1102.9" cy="444.1" r="10.2" fill="#ff7f00"/>
<circle cx="1276.9" cy="451.1" r="10.2" fill="#ff7f00"/>
<circle cx="1276.9" cy="485.5" r="10.2" fill="#ff7f00"/>
<circle cx="1302.5" cy="511.6" r="10.2" fill="#ff7f00"/>
<circle cx="1143.9" cy="537.2" r="10.2" fill="#ff7f00"/>
<circle cx="1212.9" cy="554.7" r="10.2" fill="#ff7f00"/>
<circle cx="1356.0" cy="423.5" r="10.2" fill="#ff7f00"/>
<circle cx="1344.1" cy="463.1" r="10.2" fill="#ff7f00"/>
<circle cx="1399.1" cy="426.7" r="10.2" fill="#ff7f00"/>
<circle cx="1378.4" cy="461.6" r="10.2" fill="#ff7f00"/>
<circle cx="1380.7" cy="449.1" r="10.2" fill="#ff7f00"/>
<circle cx="1390.9" cy="446.2" r="10.2" fill="#ff7f00"/>
<circle cx="1395.3" cy="449.1" r="10.2" fill="#ff7f00"/>
<circle cx="1376.9" cy="509.6" r="10.2" fill="#ff7f00"/>
<circle cx="982.0" cy="687.1" r="10.2" fill="#ff7f00"/>
<circle cx="1454.9" cy="305.2" r="10.2" fill="#ff7f00"/>
<circle cx="1456.4" cy="304.0" r="10.2" fill="#ff7f00"/>
<circle cx="1445.4" cy="321.7" r="10.2" fill="#ff7f00"/>
<circle cx="1437.0" cy="340.6" r="10.2" fill="#ff7f00"/>
<circle cx="1455.9" cy="355.6" r="10.2" fill="#ff7f00"/>
<circle cx="1485.2" cy="322.2" r="10.2" fill="#ff7f00"/>
<circle cx="1490.3" cy="357.1" r="10.2" fill="#ff7f00"/>
<circle cx="1521.3" cy="320.7" r="10.2" fill="#ff7f00"/>
<circle cx="1512.1" cy="328.5" r="10.2" fill="#ff7f00"/>
<circle cx="1509.2" cy="347.9" r="10.2" fill="#ff7f00"/>
<circle cx="1430.7" cy="370.2" r="10.2" fill="#ff7f00"/>
<circle cx="1474.8" cy="371.6" r="10.2" fill="#ff7f00"/>
<circle cx="1512.1" cy="368.7" r="10.2" fill="#ff7f00"/>
<circle cx="1530.5" cy="362.9" r="10.2" fill="#ff7f00"/>
<circle cx="1502.4" cy="384.2" r="10.2" fill="#ff7f00"/>
<circle cx="1477.2" cy="389.1" r="10.2" fill="#ff7f00"/>
<circle cx="1424.8" cy="395.9" r="10.2" fill="#ff7f00"/>
<circle cx="1463.6" cy="401.7" r="10.2" fill="#ff7f00"/>
<circle cx="1464.6" cy="393.9" r="10.2" fill="#ff7f00"/>
<circle cx="1476.2" cy="411.4" r="10.2" fill="#ff7f00"/>
<circle cx="1466.1" cy="409.5" r="10.2" fill="#ff7f00"/>
<circle cx="1480.1" cy="402.7" r="10.2" fill="#ff7f00"/>
<circle cx="1493.7" cy="411.4" r="10.2" fill="#ff7f00"/>
<circle cx="1492.2" cy="402.7" r="10.2" fill="#ff7f00"/>
<circle cx="1511.2" cy="412.4" r="10.2" fill="#ff7f00"/>
<circle cx="1438.9" cy="426.9" r="10.2" fill="#ff7f00"/>
<circle cx="1490.3" cy="433.2" r="10.2" fill="#ff7f00"/>
<circle cx="1535.4" cy="420.1" r="10.2" fill="#ff7f00"/>
<circle cx="1547.0" cy="411.9" r="10.2" fill="#ff7f00"/>
<circle cx="1522.8" cy="396.8" r="10.2" fill="#ff7f00"/>
<circle cx="1421.9" cy="449.2" r="10.2" fill="#ff7f00"/>
<circle cx="1424.8" cy="473.7" r="10.2" fill="#ff7f00"/>
<circle cx="1468.5" cy="443.4" r="10.2" fill="#ff7f00"/>
<circle cx="1453.9" cy="456.0" r="10.2" fill="#ff7f00"/>
<circle cx="1472.4" cy="454.5" r="10.2" fill="#ff7f00"/>
<circle cx="1460.7" cy="466.2" r="10.2" fill="#ff7f00"/>
<circle cx="1468.5" cy="465.2" r="10.2" fill="#ff7f00"/>
<circle cx="1487.4" cy="461.3" r="10.2" fill="#ff7f00"/>
<circle cx="1507.8" cy="446.3" r="10.2" fill="#ff7f00"/>
<circle cx="1531.5" cy="466.5" r="10.2" fill="#ff7f00"/>
<circle cx="1452.5" cy="488.5" r="10.2" fill="#ff7f00"/>
<circle cx="1712.7" cy="457.9" r="10.2" fill="#ff7f00"/>
<circle cx="1630.3" cy="482.2" r="10.2" fill="#ff7f00"/>
<circle cx="1595.4" cy="314.7" r="10.2" fill="#ff7f00"/>
<circle cx="1544.7" cy="328.5" r="10.2" fill="#ff7f00"/>
<circle cx="1548.7" cy="351.5" r="10.2" fill="#ff7f00"/>
<circle cx="1565.5" cy="342.7" r="10.2" fill="#ff7f00"/>
<circle cx="1574.9" cy="346.4" r="10.2" fill="#ff7f00"/>
<circle cx="1590.2" cy="340.5" r="10.2" fill="#ff7f00"/>
<circle cx="1641.8" cy="371.8" r="10.2" fill="#ff7f00"/>
<circle cx="1653.5" cy="374.0" r="10.2" fill="#ff7f00"/>
<circle cx="1636.7" cy="380.5" r="10.2" fill="#ff7f00"/>
<circle cx="1585.1" cy="387.8" r="10.2" fill="#ff7f00"/>
<circle cx="1597.5" cy="382.0" r="10.2" fill="#ff7f00"/>
<circle cx="1574.9" cy="402.4" r="10.2" fill="#ff7f00"/>
<circle cx="1607.5" cy="370.3" r="10.2" fill="#377eb8"/>
<circle cx="1599.0" cy="372.7" r="10.2" fill="#377eb8"/>
<circle cx="1608.7" cy="348.5" r="10.2" fill="#377eb8"/>
<circle cx="1623.3" cy="359.4" r="10.2" fill="#377eb8"/>
<circle cx="1550.5" cy="380.0" r="10.2" fill="#377eb8"/>
<circle cx="1578.4" cy="370.3" r="10.2" fill="#377eb8"/>
<circle cx="1593.0" cy="377.6" r="10.2" fill="#377eb8"/>
<circle cx="1452.7" cy="227.1" r="10.2" fill="#377eb8"/>
<circle cx="1357.3" cy="320.2" r="10.2" fill="#377eb8"/>
<circle cx="1395.4" cy="318.2" r="10.2" fill="#377eb8"/>
<circle cx="1294.0" cy="415.1" r="10.2" fill="#377eb8"/>
<circle cx="1492.2" cy="311.0" r="10.2" fill="#377eb8"/>
<circle cx="1527.6" cy="331.4" r="10.2" fill="#377eb8"/>
<circle cx="1510.2" cy="339.2" r="10.2" fill="#377eb8"/>
<circle cx="1532.5" cy="348.8" r="10.2" fill="#377eb8"/>
<circle cx="1519.9" cy="342.1" r="10.2" fill="#377eb8"/>
<circle cx="1666.4" cy="376.7" r="10.2" fill="#377eb8"/>
<circle cx="1705.9" cy="408.0" r="10.2" fill="#377eb8"/>
<circle cx="1691.9" cy="438.5" r="10.2" fill="#377eb8"/>
<circle cx="1536.4" cy="378.4" r="10.2" fill="#377eb8"/>
<circle cx="1518.9" cy="381.8" r="10.2" fill="#377eb8"/>
<circle cx="1530.1" cy="383.8" r="10.2" fill="#377eb8"/>
<circle cx="1501.0" cy="399.3" r="10.2" fill="#377eb8"/>
<circle cx="1518.9" cy="416.2" r="10.2" fill="#377eb8"/>
<circle cx="1528.6" cy="418.2" r="10.2" fill="#377eb8"/>
<circle cx="1523.3" cy="404.1" r="10.2" fill="#377eb8"/>
<circle cx="1507.8" cy="435.6" r="10.2" fill="#377eb8"/>
<circle cx="1457.8" cy="454.5" r="10.2" fill="#377eb8"/>
<circle cx="1457.6" cy="463.3" r="10.2" fill="#377eb8"/>
<circle cx="1476.7" cy="449.2" r="10.2" fill="#377eb8"/>
<circle cx="1542.4" cy="462.8" r="10.2" fill="#377eb8"/>
<circle cx="1443.8" cy="497.7" r="10.2" fill="#377eb8"/>
<circle cx="1628.4" cy="487.5" r="10.2" fill="#377eb8"/>
<circle cx="1542.2" cy="324.5" r="10.2" fill="#377eb8"/>
<circle cx="1573.5" cy="335.5" r="10.2" fill="#377eb8"/>
<circle cx="1568.0" cy="331.8" r="10.2" fill="#377eb8"/>
<circle cx="1587.3" cy="344.2" r="10.2" fill="#377eb8"/>
<circle cx="1598.9" cy="342.0" r="10.2" fill="#377eb8"/>
<circle cx="1598.9" cy="352.2" r="10.2" fill="#377eb8"/>
<circle cx="1587.3" cy="354.4" r="10.2" fill="#377eb8"/>
<circle cx="1605.5" cy="359.5" r="10.2" fill="#377eb8"/>
<circle cx="1568.4" cy="357.3" r="10.2" fill="#377eb8"/>
<circle cx="1547.3" cy="368.2" r="10.2" fill="#377eb8"/>
<circle cx="1612.0" cy="331.1" r="10.2" fill="#377eb8"/>
<circle cx="1614.9" cy="334.1" r="10.2" fill="#377eb8"/>
<circle cx="1618.5" cy="338.4" r="10.2" fill="#377eb8"/>
<circle cx="1621.1" cy="340.4" r="10.2" fill="#377eb8"/>
<circle cx="1623.6" cy="342.5" r="10.2" fill="#377eb8"/>
<circle cx="1626.2" cy="344.5" r="10.2" fill="#377eb8"/>
<circle cx="1628.7" cy="346.6" r="10.2" fill="#377eb8"/>
<circle cx="1631.3" cy="348.7" r="10.2" fill="#377eb8"/>
<circle cx="1633.8" cy="350.7" r="10.2" fill="#377eb8"/>
<circle cx="1618.5" cy="338.4" r="10.2" fill="#377eb8"/>
<circle cx="1616.4" cy="358.0" r="10.2" fill="#377eb8"/>
<circle cx="1564.0" cy="379.1" r="10.2" fill="#377eb8"/>
<circle cx="1580.0" cy="381.3" r="10.2" fill="#377eb8"/>
<circle cx="1540.0" cy="379.1" r="10.2" fill="#377eb8"/>
<circle cx="1601.1" cy="366.7" r="10.2" fill="#377eb8"/>
<circle cx="1606.9" cy="368.2" r="10.2" fill="#377eb8"/>
<circle cx="1611.3" cy="369.6" r="10.2" fill="#377eb8"/>
<circle cx="1612.7" cy="364.5" r="10.2" fill="#377eb8"/>
<circle cx="1569.8" cy="363.1" r="10.2" fill="#377eb8"/>
<circle cx="1590.2" cy="363.1" r="10.2" fill="#377eb8"/>
<circle cx="1556.0" cy="370.0" r="10.2" fill="#377eb8"/>
<circle cx="1638.9" cy="356.2" r="10.2" fill="#377eb8"/>
<circle cx="1610.9" cy="384.2" r="10.2" fill="#377eb8"/>
<circle cx="1650.5" cy="379.1" r="10.2" fill="#377eb8"/>
<circle cx="1666.2" cy="376.5" r="10.2" fill="#377eb8"/>
<circle cx="1551.6" cy="394.4" r="10.2" fill="#377eb8"/>
<circle cx="1547.3" cy="404.5" r="10.2" fill="#377eb8"/>
<circle cx="1574.5" cy="390.7" r="10.2" fill="#377eb8"/>
<circle cx="1564.7" cy="399.5" r="10.2" fill="#377eb8"/>
<circle cx="1616.0" cy="357.9" r="10.2" fill="#377eb8"/>
</g>
<g id="zerolines">
<line x1="84.30" y1="400.70" x2="835.50" y2="400.70" stroke="#000" stroke-width="1.5"/>
<line x1="522.25" y1="41.30" x2="522.25" y2="706.60" stroke="#000" stroke-width="1.5"/>
<line x1="939.00" y1="363.30" x2="1736.00" y2="363.30" stroke="#000" stroke-width="1.5"/>
<line x1="1570.00" y1="43.00" x2="1570.00" y2="704.50" stroke="#000" stroke-width="1.5"/>
</g>
<g id="legend">
<circle cx="113.6" cy="805.9" r="9.9" fill="#377eb8" style="stroke-width:1.3"/>
<text transform="translate(152.00 815.00) scale(1 1.0)" font-size="20.7" text-anchor="start" >Control Cells</text>
<circle cx="306.0" cy="805.9" r="9.9" fill="#ff7f00" style="stroke-width:1.3"/>
<text transform="translate(344.00 815.00) scale(1 1.0)" font-size="20.7" text-anchor="start" >HDAC</text>
<circle cx="968.4" cy="808.0" r="10.3" fill="#377eb8" style="stroke-width:1.5"/>
<text transform="translate(1010.00 816.00) scale(1 1.0)" font-size="20.45" text-anchor="start" >Control Cells</text>
<circle cx="1168.0" cy="808.0" r="10.3" fill="#ff7f00" style="stroke-width:1.5"/>
<text transform="translate(1208.30 816.00) scale(1 1.0)" font-size="20.45" text-anchor="start" >HDAC</text>
</g>
</svg>
</body></html>
